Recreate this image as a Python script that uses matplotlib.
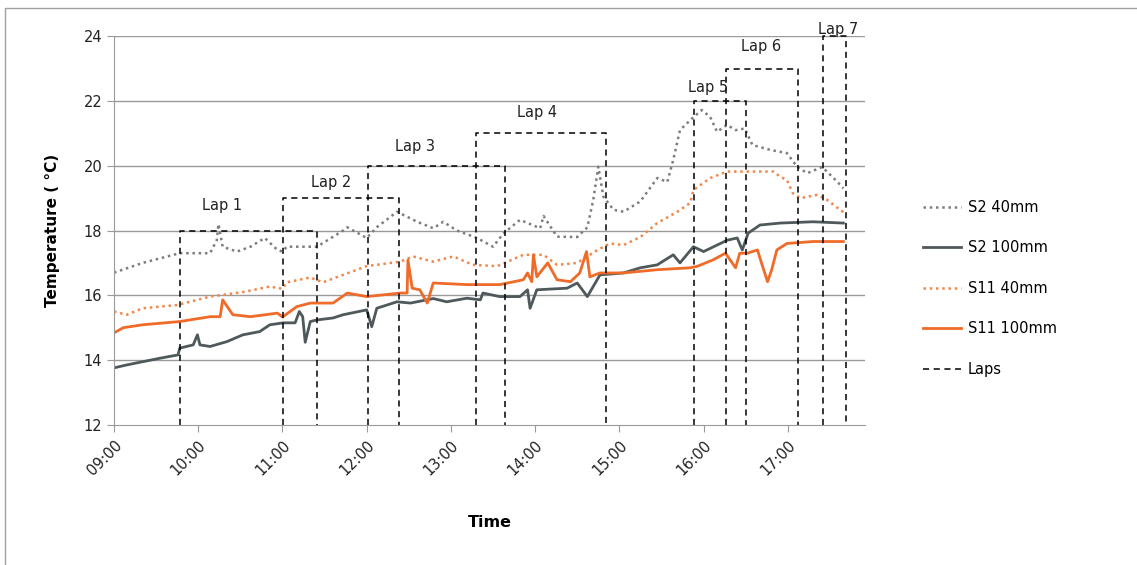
import matplotlib
matplotlib.use("Agg")
import matplotlib.pyplot as plt
from matplotlib.patches import Rectangle

s2_40_t = [9.0, 9.34, 9.78, 10.14, 10.22, 10.24, 10.29, 10.46, 10.62, 10.79, 10.94, 11.0, 11.05,
           11.21, 11.41, 11.72, 11.77, 12.0, 12.12, 12.36, 12.60, 12.79, 12.91, 13.07, 13.31, 13.50,
           13.62, 13.82, 14.06, 14.10, 14.26, 14.50, 14.62, 14.69, 14.75, 14.81, 14.93, 15.05,
           15.25, 15.45, 15.57, 15.64, 15.72, 15.88, 15.98, 16.08, 16.16, 16.28, 16.38, 16.49,
           16.58, 16.79, 16.99, 17.11, 17.23, 17.41, 17.59, 17.66]
s2_40_v = [16.7, 17.0, 17.3, 17.3, 17.7, 18.2, 17.5, 17.35, 17.5, 17.77, 17.4, 17.35, 17.5,
           17.5, 17.5, 18.0, 18.1, 17.77, 18.1, 18.58, 18.27, 18.07, 18.27, 18.0, 17.77, 17.5,
           17.9, 18.33, 18.07, 18.45, 17.81, 17.8, 18.1, 18.94, 19.97, 19.05, 18.64, 18.58,
           18.9, 19.62, 19.5, 20.18, 21.1, 21.5, 21.72, 21.5, 21.05, 21.26, 21.1, 21.15,
           20.64, 20.49, 20.39, 19.97, 19.77, 19.96, 19.5, 19.3]

s2_100_t = [9.0, 9.15, 9.34, 9.55, 9.76, 9.78, 9.94, 9.99, 10.02, 10.14, 10.34, 10.53, 10.73,
            10.85, 11.01, 11.15, 11.20, 11.24, 11.27, 11.33, 11.41, 11.60, 11.72, 12.0, 12.06,
            12.12, 12.36, 12.52, 12.79, 12.95, 13.19, 13.35, 13.38, 13.58, 13.82, 13.91, 13.94,
            14.02, 14.38, 14.50, 14.62, 14.77, 15.05, 15.25, 15.45, 15.64, 15.72, 15.88, 16.0,
            16.28, 16.40, 16.46, 16.53, 16.67, 16.91, 17.30, 17.66]
s2_100_v = [13.76, 13.85, 13.95, 14.06, 14.16, 14.37, 14.47, 14.78, 14.47, 14.42, 14.57, 14.78, 14.88,
            15.09, 15.15, 15.15, 15.5, 15.34, 14.55, 15.19, 15.24, 15.3, 15.4, 15.55, 15.03,
            15.6, 15.8, 15.76, 15.9, 15.8, 15.91, 15.86, 16.07, 15.96, 15.96, 16.17, 15.6,
            16.17, 16.22, 16.38, 15.96, 16.63, 16.69, 16.85, 16.94, 17.25, 17.0, 17.5, 17.35,
            17.7, 17.77, 17.4, 17.92, 18.17, 18.23, 18.27, 18.23]

s11_40_t = [9.0, 9.15, 9.34, 9.75, 10.14, 10.53, 10.85, 11.0, 11.05, 11.33, 11.48, 11.72, 12.0,
            12.40, 12.55, 12.79, 13.03, 13.26, 13.55, 13.86, 14.10, 14.26, 14.50, 14.74, 14.89,
            15.05, 15.25, 15.45, 15.69, 15.84, 15.88, 16.08, 16.28, 16.52, 16.83, 16.91, 16.99,
            17.06, 17.15, 17.35, 17.47, 17.62, 17.68]
s11_40_v = [15.5, 15.4, 15.6, 15.7, 15.96, 16.1, 16.27, 16.2, 16.4, 16.55, 16.4, 16.63, 16.9,
            17.04, 17.2, 17.04, 17.2, 16.94, 16.9, 17.25, 17.25, 16.94, 17.0, 17.4, 17.6,
            17.55, 17.8, 18.23, 18.58, 18.85, 19.25, 19.62, 19.82, 19.82, 19.82, 19.66, 19.56,
            19.15, 19.0, 19.1, 18.94, 18.64, 18.54]

s11_100_t = [9.0, 9.11, 9.34, 9.78, 10.14, 10.26, 10.29, 10.41, 10.62, 10.94, 11.0, 11.17, 11.33,
             11.60, 11.77, 12.0, 12.40, 12.48, 12.49, 12.54, 12.63, 12.72, 12.79, 13.19, 13.58,
             13.86, 13.91, 13.96, 13.98, 14.02, 14.15, 14.26, 14.42, 14.53, 14.61, 14.65, 14.77,
             15.05, 15.45, 15.84, 15.92, 16.11, 16.26, 16.38, 16.43, 16.52, 16.64, 16.70, 16.76,
             16.81, 16.87, 16.99, 17.30, 17.66]
s11_100_v = [14.84, 15.0, 15.09, 15.19, 15.34, 15.34, 15.86, 15.4, 15.34, 15.45, 15.33, 15.65, 15.76,
             15.76, 16.07, 15.96, 16.07, 16.07, 17.09, 16.22, 16.17, 15.76, 16.38, 16.33, 16.33,
             16.48, 16.69, 16.42, 17.25, 16.57, 17.0, 16.48, 16.42, 16.69, 17.35, 16.57, 16.69,
             16.69, 16.79, 16.85, 16.89, 17.09, 17.3, 16.85, 17.3, 17.3, 17.4, 16.9, 16.42,
             16.8, 17.4, 17.6, 17.66, 17.66]

lap_names = ["Lap 1", "Lap 2", "Lap 3", "Lap 4", "Lap 5", "Lap 6", "Lap 7"]
lap_start = [9.78, 11.01, 12.02, 13.30, 15.89, 16.27, 17.42]
lap_end = [11.41, 12.38, 13.64, 14.84, 16.50, 17.12, 17.69]
lap_top = [18, 19, 20, 21, 22, 23, 24]
lap_label_x = [10.28, 11.58, 12.57, 14.02, 16.05, 16.68, 17.60]
lap_label_y = [18.76, 19.47, 20.6, 21.63, 22.4, 23.67, 24.2]

hours = list(range(9, 18))
hour_labels = ["%02d:00" % h for h in hours]

plt.rcParams['font.family'] = ['DejaVu Sans']

fig = plt.figure(figsize=(11.37, 5.65), dpi=100)
ax = fig.add_axes([0.1003, 0.248, 0.6607, 0.688])

grid_col = "#9a9a9a"
for y in range(14, 25, 2):
    ax.axhline(y, color=grid_col, lw=1.0, zorder=0)

ax.plot(s2_40_t, s2_40_v, color="#7d7d7d", lw=1.8, ls=(0, (1, 1.5)), label="S2 40mm")
ax.plot(s2_100_t, s2_100_v, color="#4f585a", lw=2.0, label="S2 100mm")
ax.plot(s11_40_t, s11_40_v, color="#f0884a", lw=1.8, ls=(0, (1, 1.5)), label="S11 40mm")
ax.plot(s11_100_t, s11_100_v, color="#f06a28", lw=2.0, label="S11 100mm")

for i in range(len(lap_names)):
    x0, x1, top = lap_start[i], lap_end[i], lap_top[i]
    ax.plot([x0, x0, x1, x1], [12, top, top, 12], color="black", lw=1.1,
            ls=(0, (4, 3)), label="Laps" if i == 0 else None, clip_on=False)
    ax.text(lap_label_x[i], lap_label_y[i], lap_names[i], ha="center", va="center",
            fontsize=10.5, color="#222222", clip_on=False)

ax.set_xlim(9.0, 17.92)
ax.set_ylim(12, 24)
ax.set_yticks(range(12, 25, 2))
ax.set_xticks(hours)
ax.set_xticklabels(hour_labels, rotation=45, ha="right", rotation_mode="anchor")
ax.tick_params(axis="both", labelsize=10.5, colors="#222222", length=5, color=grid_col)
ax.tick_params(axis="x", pad=4)

for s in ["top", "right"]:
    ax.spines[s].set_visible(False)
for s in ["left", "bottom"]:
    ax.spines[s].set_color(grid_col)

ax.set_xlabel("Time", fontsize=11.5, fontweight="bold", labelpad=27)
ax.set_ylabel("Temperature ( °C)", fontsize=11, fontweight="bold", labelpad=17)

handles, labels = ax.get_legend_handles_labels()
fig.legend(handles, labels, loc="center left", bbox_to_anchor=(0.8, 0.49), frameon=False,
           fontsize=10.5, labelspacing=1.75, handlelength=2.6, handletextpad=0.5)

fig.patches.append(Rectangle((0.004, -0.01), 1.0, 0.996, transform=fig.transFigure,
                             fill=False, edgecolor="#a0a0a0", lw=1.0))

plt.savefig("out.png", dpi=100)
